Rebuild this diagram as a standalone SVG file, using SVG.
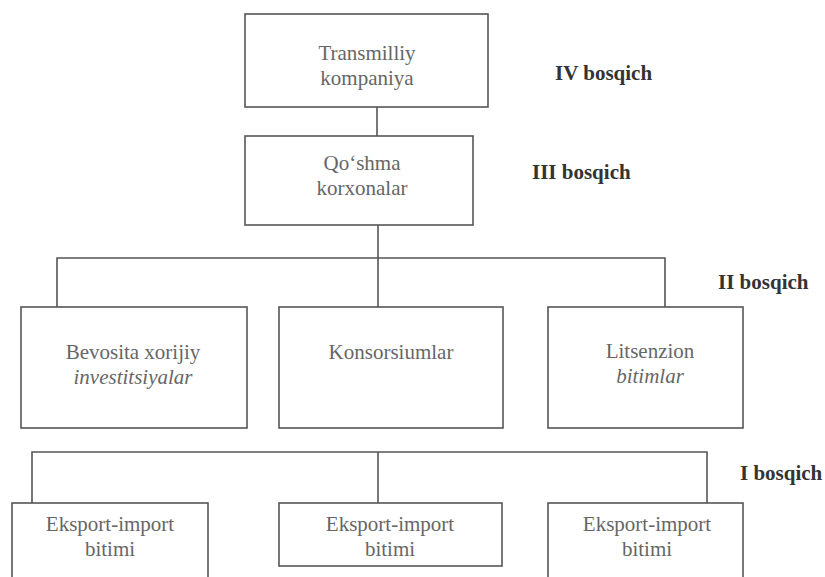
<svg xmlns="http://www.w3.org/2000/svg" width="825" height="577" viewBox="0 0 825 577">
<style>
.box{fill:#fff;stroke:#555;stroke-width:1.6}
.con{fill:none;stroke:#555;stroke-width:1.6}
.t{font-family:"Liberation Serif",serif;font-size:21px;fill:#666;text-anchor:middle}
.it{font-style:italic}
.lab{font-family:"Liberation Serif",serif;font-size:21px;font-weight:bold;fill:#333}
</style>
<rect width="825" height="577" fill="#fff"/>
<g id="connectors">
<line class="con" x1="377" y1="107" x2="377" y2="136"/>
<line class="con" x1="378" y1="225" x2="378" y2="307"/>
<polyline class="con" points="57,307 57,258 665,258 665,307"/>
<line class="con" x1="378" y1="452" x2="378" y2="503"/>
<polyline class="con" points="32,503 32,452 707,452 707,503"/>
</g>
<g id="n_tk"><rect class="box" x="245" y="14" width="243" height="93"/>
<text class="t" x="367" y="60">Transmilliy</text><text class="t" x="367" y="85">kompaniya</text></g>
<g id="n_qk"><rect class="box" x="245" y="136" width="228" height="89"/>
<text class="t" x="362" y="170">Qo‘shma</text><text class="t" x="362" y="195">korxonalar</text></g>
<g id="n_bxi"><rect class="box" x="21" y="307" width="226" height="121"/>
<text class="t" x="133" y="359">Bevosita xorijiy</text><text class="t it" x="133" y="384">investitsiyalar</text></g>
<g id="n_kon"><rect class="box" x="279" y="307" width="224" height="121"/>
<text class="t" x="391" y="359">Konsorsiumlar</text></g>
<g id="n_lit"><rect class="box" x="548" y="307" width="195" height="121"/>
<text class="t" x="650" y="358">Litsenzion</text><text class="t it" x="650" y="383">bitimlar</text></g>
<g id="n_ei1"><rect class="box" x="12" y="503" width="196" height="90"/>
<text class="t" x="110" y="531">Eksport-import</text><text class="t" x="110" y="556">bitimi</text></g>
<g id="n_ei2"><rect class="box" x="279" y="503" width="223" height="63"/>
<text class="t" x="390" y="531">Eksport-import</text><text class="t" x="390" y="556">bitimi</text></g>
<g id="n_ei3"><rect class="box" x="548" y="503" width="195" height="90"/>
<text class="t" x="647" y="531">Eksport-import</text><text class="t" x="647" y="556">bitimi</text></g>
<g id="labels">
<text class="lab" x="555" y="80">IV bosqich</text>
<text class="lab" x="532" y="179">III bosqich</text>
<text class="lab" x="718" y="289">II bosqich</text>
<text class="lab" x="740" y="480">I bosqich</text>
</g>
</svg>
